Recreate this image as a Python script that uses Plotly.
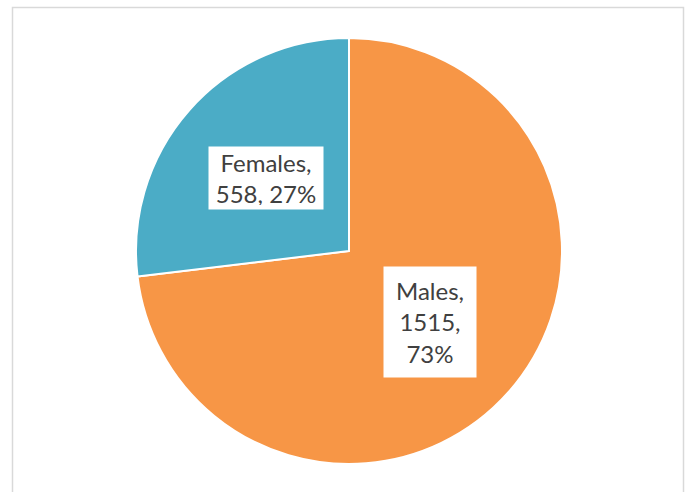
import math
import plotly.graph_objects as go

# ---- data ----
categories = ["Males", "Females"]
values = [1515, 558]
colors = ["#F79646", "#4BACC6"]

W, H = 691, 492
# pie geometry (pixels)
cx, cy, R = 349, 251, 213

dom_x = [(cx - R) / W, (cx + R) / W]
dom_y = [(H - cy - R) / H, (H - cy + R) / H]

fig = go.Figure(go.Pie(
    labels=categories,
    values=values,
    sort=False,
    direction="clockwise",
    rotation=0,
    marker=dict(colors=colors, line=dict(color="white", width=2)),
    textinfo="none",
    hoverinfo="label+value+percent",
    domain=dict(x=dom_x, y=dom_y),
    showlegend=False,
))

total = sum(values)
annotations = []
start = 0.0
box_sizes = {"Males": (84, 102), "Females": (106, 54)}
radial = {"Males": 0.505, "Females": 0.52}
for cat, v in zip(categories, values):
    frac = v / total
    mid = (start + frac / 2) * 2 * math.pi  # clockwise from 12 o'clock
    start += frac
    r = radial[cat] * R
    px = cx + r * math.sin(mid)
    py = cy - r * math.cos(mid)
    pct = round(frac * 100)
    if cat == "Males":
        txt = f"{cat},<br>{v},<br>{pct}%"
    else:
        txt = f"{cat},<br>{v}, {pct}%"
    bw, bh = box_sizes[cat]
    annotations.append(dict(
        x=px / W, y=1 - py / H, xref="paper", yref="paper",
        text=txt, showarrow=False, align="center",
        font=dict(family="Lato, Open Sans, sans-serif", size=24, color="#404040"),
        bgcolor="white", borderpad=4, width=bw, height=bh,
        xanchor="center", yanchor="middle",
    ))

fig.update_layout(
    width=W, height=H,
    margin=dict(l=0, r=0, t=0, b=0),
    paper_bgcolor="white",
    plot_bgcolor="white",
    annotations=annotations,
    shapes=[dict(
        type="rect", xref="paper", yref="paper",
        x0=12.5 / W, x1=683.5 / W, y0=-0.05, y1=1 - 7.5 / H,
        line=dict(color="#D9D9D9", width=1.5), fillcolor="rgba(0,0,0,0)",
        layer="below",
    )],
)

fig.write_html(
    "out.html",
    config={"displayModeBar": False},
    post_script="document.body.style.margin='0';document.body.style.overflow='hidden';",
)
